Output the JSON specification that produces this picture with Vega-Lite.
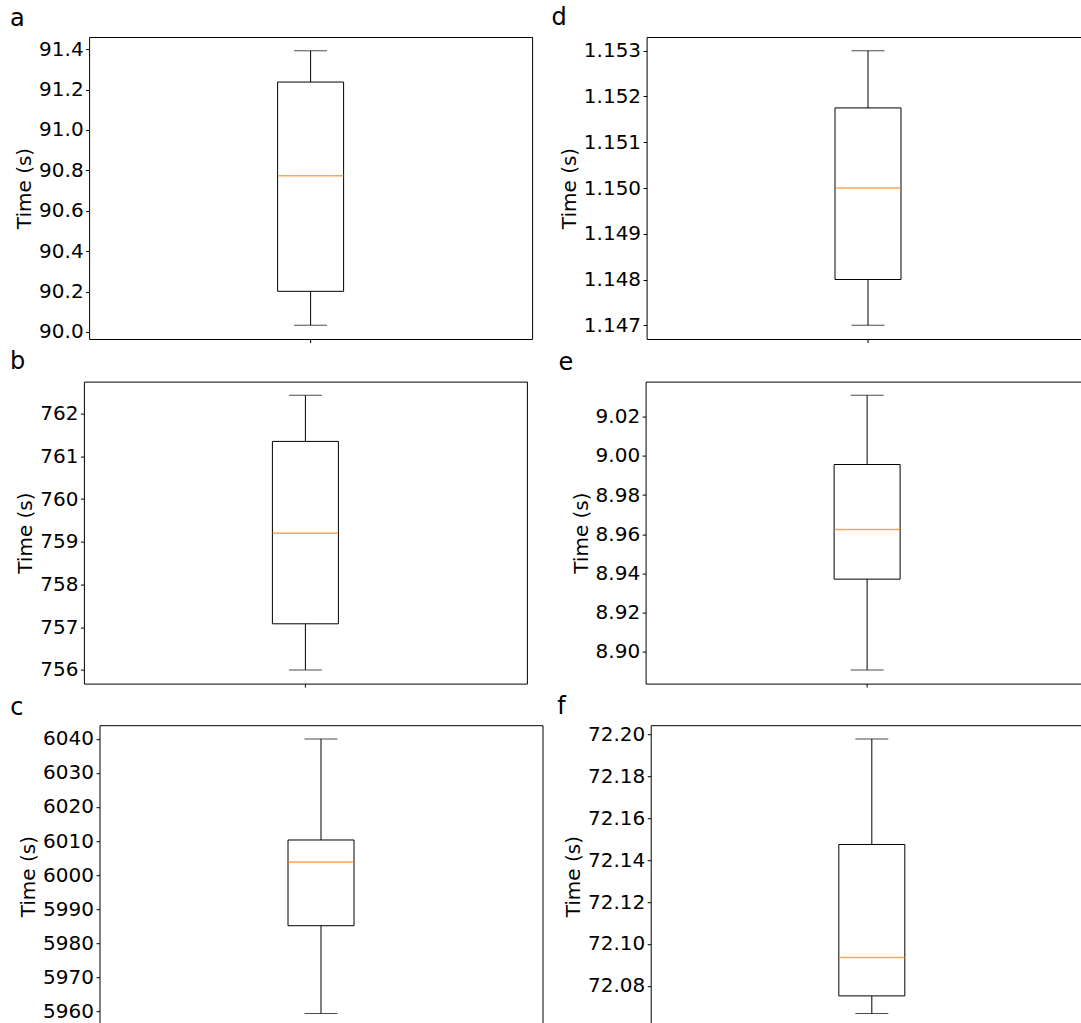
{
  "$schema": "https://vega.github.io/schema/vega-lite/v6.json",
  "padding": {"left": 9.5, "top": 5, "right": 0, "bottom": 0},
  "background": "white",
  "config": {
    "font": "DejaVu Sans",
    "view": {"stroke": "#000000", "strokeWidth": 1},
    "axis": {"grid": false, "domain": false, "tickColor": "#000000", "labelColor": "#000000", "titleColor": "#000000", "labelFont": "DejaVu Sans", "titleFont": "DejaVu Sans", "labelFontSize": 20, "titleFontSize": 20, "titleFontWeight": "normal", "tickSize": 3.5, "tickWidth": 1, "labelPadding": 2.5, "titlePadding": 4, "labelOverlap": false},
    "title": {"font": "DejaVu Sans", "fontSize": 24, "fontWeight": "normal", "anchor": "start", "frame": "group", "color": "#000000", "baseline": "alphabetic"}
  },
  "datasets": {
    "stats": [
      {"panel": "a", "run": "1", "min": 90.033, "q1": 90.201, "median": 90.773, "q3": 91.237, "max": 91.392},
      {"panel": "b", "run": "1", "min": 756.0, "q1": 757.08, "median": 759.2, "q3": 761.35, "max": 762.43},
      {"panel": "c", "run": "1", "min": 5959.3, "q1": 5985.1, "median": 6003.8, "q3": 6010.3, "max": 6040.0},
      {"panel": "d", "run": "1", "min": 1.147, "q1": 1.148, "median": 1.15, "q3": 1.15175, "max": 1.153},
      {"panel": "e", "run": "1", "min": 8.8908, "q1": 8.9371, "median": 8.9624, "q3": 8.9956, "max": 9.0309},
      {"panel": "f", "run": "1", "min": 72.0668, "q1": 72.0752, "median": 72.0935, "q3": 72.1475, "max": 72.1979}
    ]
  },
  "data": {"name": "stats"},
  "columns": 1,
  "align": "each",
  "center": true,
  "spacing": 5.6,
  "concat": [
    {
      "columns": 2,
      "align": "none",
      "spacing": 17.5,
      "concat": [
        {
          "title": {"text": "a", "dx": -79, "offset": 5.8},
          "width": 443, "height": 302,
          "transform": [{"filter": "datum.panel === 'a'"}],
          "encoding": {"x": {"field": "run", "type": "nominal", "scale": {"type": "band", "paddingInner": 0, "paddingOuter": 0.5, "align": 0.5}, "axis": {"labels": false, "title": null}}},
          "layer": [
            {"mark": {"type": "rule", "color": "#000000", "strokeWidth": 1}, "encoding": {"y": {"field": "min", "type": "quantitative", "title": "Time (s)", "scale": {"domain": [89.965, 91.46], "nice": false, "zero": false}, "axis": {"values": [90.0, 90.2, 90.4, 90.6, 90.8, 91.0, 91.2, 91.4], "tickCount": 8, "format": ".1f", "labelOverlap": false}}, "y2": {"field": "max"}}},
            {"mark": {"type": "bar", "width": 66, "fill": "#ffffff", "stroke": "#000000", "strokeWidth": 1}, "encoding": {"y": {"field": "q1", "type": "quantitative", "title": "Time (s)"}, "y2": {"field": "q3"}}},
            {"mark": {"type": "tick", "color": "#ff7f0e", "thickness": 1.5, "size": 66}, "encoding": {"y": {"field": "median", "type": "quantitative", "title": "Time (s)"}}},
            {"mark": {"type": "tick", "color": "#000000", "thickness": 1, "size": 33}, "encoding": {"y": {"field": "max", "type": "quantitative", "title": "Time (s)"}}},
            {"mark": {"type": "tick", "color": "#000000", "thickness": 1, "size": 33}, "encoding": {"y": {"field": "min", "type": "quantitative", "title": "Time (s)"}}}
          ]
        },
        {
          "title": {"text": "d", "dx": -95.2, "offset": 7},
          "width": 463.8, "height": 302,
          "transform": [{"filter": "datum.panel === 'd'"}],
          "encoding": {"x": {"field": "run", "type": "nominal", "scale": {"type": "band", "paddingInner": 0, "paddingOuter": 0.5, "align": 0.4547}, "axis": {"labels": false, "title": null}}},
          "layer": [
            {"mark": {"type": "rule", "color": "#000000", "strokeWidth": 1}, "encoding": {"y": {"field": "min", "type": "quantitative", "title": "Time (s)", "scale": {"domain": [1.1467, 1.1533], "nice": false, "zero": false}, "axis": {"values": [1.147, 1.148, 1.149, 1.15, 1.151, 1.152, 1.153], "tickCount": 7, "format": ".3f", "labelOverlap": false}}, "y2": {"field": "max"}}},
            {"mark": {"type": "bar", "width": 66, "fill": "#ffffff", "stroke": "#000000", "strokeWidth": 1}, "encoding": {"y": {"field": "q1", "type": "quantitative", "title": "Time (s)"}, "y2": {"field": "q3"}}},
            {"mark": {"type": "tick", "color": "#ff7f0e", "thickness": 1.5, "size": 66}, "encoding": {"y": {"field": "median", "type": "quantitative", "title": "Time (s)"}}},
            {"mark": {"type": "tick", "color": "#000000", "thickness": 1, "size": 33}, "encoding": {"y": {"field": "max", "type": "quantitative", "title": "Time (s)"}}},
            {"mark": {"type": "tick", "color": "#000000", "thickness": 1, "size": 33}, "encoding": {"y": {"field": "min", "type": "quantitative", "title": "Time (s)"}}}
          ]
        }
      ]
    },
    {
      "columns": 2,
      "align": "none",
      "spacing": 29.7,
      "concat": [
        {
          "title": {"text": "b", "dx": -73.8, "offset": 7.5},
          "width": 443, "height": 302,
          "transform": [{"filter": "datum.panel === 'b'"}],
          "encoding": {"x": {"field": "run", "type": "nominal", "scale": {"type": "band", "paddingInner": 0, "paddingOuter": 0.5, "align": 0.5}, "axis": {"labels": false, "title": null}}},
          "layer": [
            {"mark": {"type": "rule", "color": "#000000", "strokeWidth": 1}, "encoding": {"y": {"field": "min", "type": "quantitative", "title": "Time (s)", "scale": {"domain": [755.68, 762.75], "nice": false, "zero": false}, "axis": {"values": [756, 757, 758, 759, 760, 761, 762], "tickCount": 7, "format": "d", "labelOverlap": false}}, "y2": {"field": "max"}}},
            {"mark": {"type": "bar", "width": 66, "fill": "#ffffff", "stroke": "#000000", "strokeWidth": 1}, "encoding": {"y": {"field": "q1", "type": "quantitative", "title": "Time (s)"}, "y2": {"field": "q3"}}},
            {"mark": {"type": "tick", "color": "#ff7f0e", "thickness": 1.5, "size": 66}, "encoding": {"y": {"field": "median", "type": "quantitative", "title": "Time (s)"}}},
            {"mark": {"type": "tick", "color": "#000000", "thickness": 1, "size": 33}, "encoding": {"y": {"field": "max", "type": "quantitative", "title": "Time (s)"}}},
            {"mark": {"type": "tick", "color": "#000000", "thickness": 1, "size": 33}, "encoding": {"y": {"field": "min", "type": "quantitative", "title": "Time (s)"}}}
          ]
        },
        {
          "title": {"text": "e", "dx": -87.2, "offset": 6.5},
          "width": 470, "height": 302,
          "transform": [{"filter": "datum.panel === 'e'"}],
          "encoding": {"x": {"field": "run", "type": "nominal", "scale": {"type": "band", "paddingInner": 0, "paddingOuter": 0.5, "align": 0.4426}, "axis": {"labels": false, "title": null}}},
          "layer": [
            {"mark": {"type": "rule", "color": "#000000", "strokeWidth": 1}, "encoding": {"y": {"field": "min", "type": "quantitative", "title": "Time (s)", "scale": {"domain": [8.8838, 9.0379], "nice": false, "zero": false}, "axis": {"values": [8.9, 8.92, 8.94, 8.96, 8.98, 9.0, 9.02], "tickCount": 7, "format": ".2f", "labelOverlap": false}}, "y2": {"field": "max"}}},
            {"mark": {"type": "bar", "width": 66, "fill": "#ffffff", "stroke": "#000000", "strokeWidth": 1}, "encoding": {"y": {"field": "q1", "type": "quantitative", "title": "Time (s)"}, "y2": {"field": "q3"}}},
            {"mark": {"type": "tick", "color": "#ff7f0e", "thickness": 1.5, "size": 66}, "encoding": {"y": {"field": "median", "type": "quantitative", "title": "Time (s)"}}},
            {"mark": {"type": "tick", "color": "#000000", "thickness": 1, "size": 33}, "encoding": {"y": {"field": "max", "type": "quantitative", "title": "Time (s)"}}},
            {"mark": {"type": "tick", "color": "#000000", "thickness": 1, "size": 33}, "encoding": {"y": {"field": "min", "type": "quantitative", "title": "Time (s)"}}}
          ]
        }
      ]
    },
    {
      "columns": 2,
      "align": "none",
      "spacing": 13.2,
      "concat": [
        {
          "title": {"text": "c", "dx": -89.3, "offset": 5},
          "width": 443, "height": 302,
          "transform": [{"filter": "datum.panel === 'c'"}],
          "encoding": {"x": {"field": "run", "type": "nominal", "scale": {"type": "band", "paddingInner": 0, "paddingOuter": 0.5, "align": 0.5}, "axis": {"labels": false, "title": null}}},
          "layer": [
            {"mark": {"type": "rule", "color": "#000000", "strokeWidth": 1}, "encoding": {"y": {"field": "min", "type": "quantitative", "title": "Time (s)", "scale": {"domain": [5955.27, 6044.04], "nice": false, "zero": false}, "axis": {"values": [5960, 5970, 5980, 5990, 6000, 6010, 6020, 6030, 6040], "tickCount": 9, "format": "d", "labelOverlap": false}}, "y2": {"field": "max"}}},
            {"mark": {"type": "bar", "width": 66, "fill": "#ffffff", "stroke": "#000000", "strokeWidth": 1}, "encoding": {"y": {"field": "q1", "type": "quantitative", "title": "Time (s)"}, "y2": {"field": "q3"}}},
            {"mark": {"type": "tick", "color": "#ff7f0e", "thickness": 1.5, "size": 66}, "encoding": {"y": {"field": "median", "type": "quantitative", "title": "Time (s)"}}},
            {"mark": {"type": "tick", "color": "#000000", "thickness": 1, "size": 33}, "encoding": {"y": {"field": "max", "type": "quantitative", "title": "Time (s)"}}},
            {"mark": {"type": "tick", "color": "#000000", "thickness": 1, "size": 33}, "encoding": {"y": {"field": "min", "type": "quantitative", "title": "Time (s)"}}}
          ]
        },
        {
          "title": {"text": "f", "dx": -93.4, "offset": 5.3},
          "width": 449.3, "height": 302,
          "transform": [{"filter": "datum.panel === 'f'"}],
          "encoding": {"x": {"field": "run", "type": "nominal", "scale": {"type": "band", "paddingInner": 0, "paddingOuter": 0.5, "align": 0.4843}, "axis": {"labels": false, "title": null}}},
          "layer": [
            {"mark": {"type": "rule", "color": "#000000", "strokeWidth": 1}, "encoding": {"y": {"field": "min", "type": "quantitative", "title": "Time (s)", "scale": {"domain": [72.06025, 72.20446], "nice": false, "zero": false}, "axis": {"values": [72.08, 72.1, 72.12, 72.14, 72.16, 72.18, 72.2], "tickCount": 7, "format": ".2f", "labelOverlap": false}}, "y2": {"field": "max"}}},
            {"mark": {"type": "bar", "width": 66, "fill": "#ffffff", "stroke": "#000000", "strokeWidth": 1}, "encoding": {"y": {"field": "q1", "type": "quantitative", "title": "Time (s)"}, "y2": {"field": "q3"}}},
            {"mark": {"type": "tick", "color": "#ff7f0e", "thickness": 1.5, "size": 66}, "encoding": {"y": {"field": "median", "type": "quantitative", "title": "Time (s)"}}},
            {"mark": {"type": "tick", "color": "#000000", "thickness": 1, "size": 33}, "encoding": {"y": {"field": "max", "type": "quantitative", "title": "Time (s)"}}},
            {"mark": {"type": "tick", "color": "#000000", "thickness": 1, "size": 33}, "encoding": {"y": {"field": "min", "type": "quantitative", "title": "Time (s)"}}}
          ]
        }
      ]
    }
  ]
}
